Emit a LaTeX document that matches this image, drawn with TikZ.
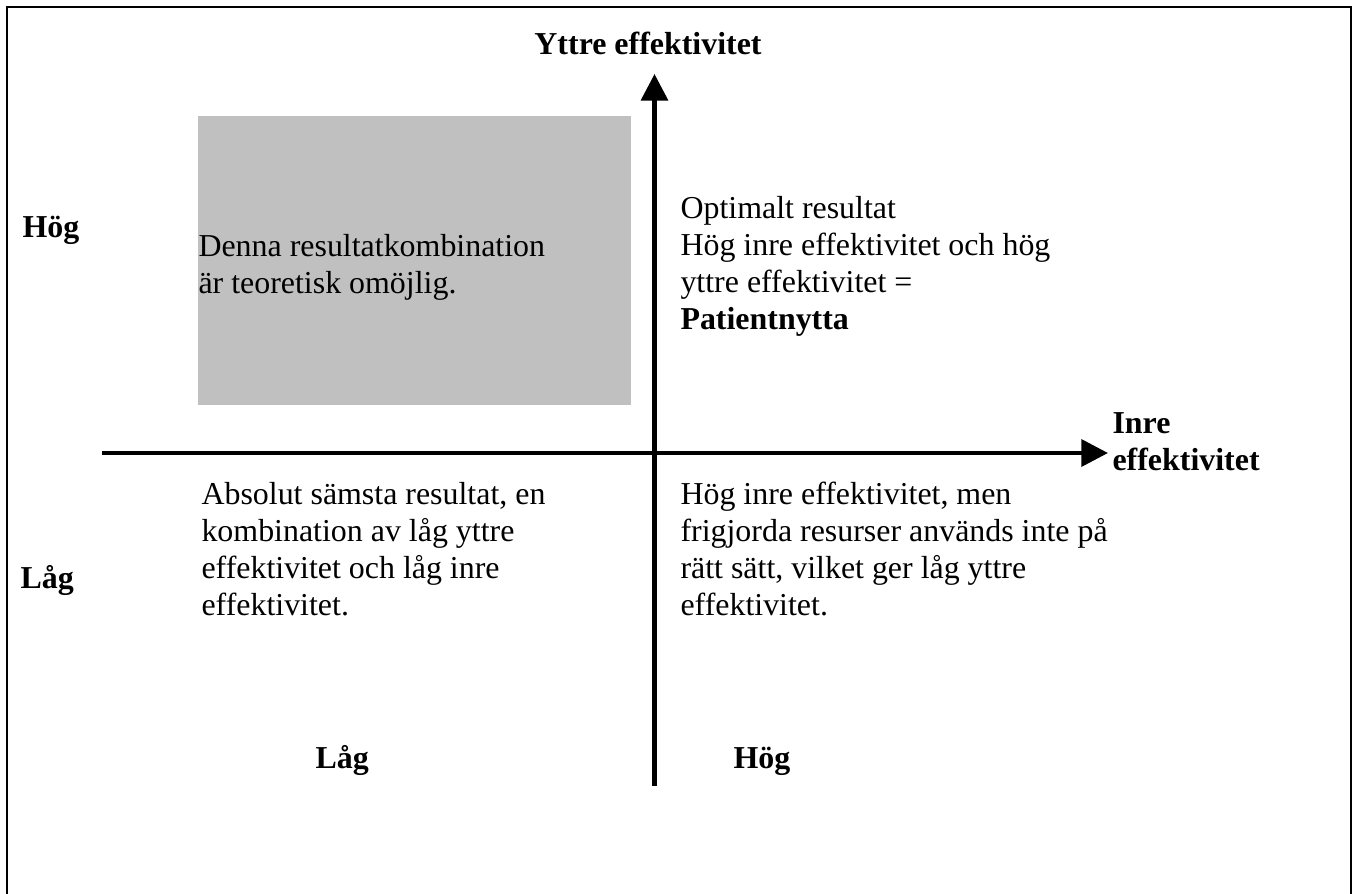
\documentclass[tikz,border=0pt]{standalone}
\usepackage{fontspec}
\setmainfont{Liberation Serif}
\usetikzlibrary{arrows.meta}
\begin{document}
\begin{tikzpicture}[x=0.376pt,y=-0.376pt,
  txt/.style={anchor=base west,inner sep=0pt,align=left,
    font=\fontsize{12pt}{13.8pt}\selectfont},
  bold/.style={txt,font=\fontsize{12pt}{13.8pt}\selectfont\bfseries},
  axis/.style={line width=1.7pt,-{Triangle[length=10pt,width=10pt]}},
  frame/.style={line width=0.9pt}]
\useasboundingbox (0,0) rectangle (1356,893);
\clip (0,0) rectangle (1356,893);
% outer frame (its bottom edge runs past the page)
\draw[frame] (7,7) rectangle (1351,920);
% shaded quadrant
\fill[fill={rgb,255:red,192;green,192;blue,192}] (198,116) rectangle (631,405);
% axes
\coordinate (ybot) at (654.5,786);
\coordinate (ytop) at (654.5,74);
\coordinate (xleft) at (102,453);
\coordinate (xright) at (1108,453);
\draw[axis] (ybot) -- (ytop);
\draw[axis] (xleft) -- (xright);
% axis titles (multi-line nodes sit on the baseline of their last line)
\node[bold,anchor=base] (ytitle) at (648,55) {Yttre effektivitet};
\node[bold] (xtitle) at (1112,470) {Inre\\effektivitet};
% scale labels
\node[bold] (yhigh) at (22,237) {Hög};
\node[bold] (ylow) at (20,588) {Låg};
\node[bold] (xlow) at (315,768) {Låg};
\node[bold] (xhigh) at (733,768) {Hög};
% quadrant texts
\node[txt] (qtl) at (198,293) {Denna resultatkombination\\är teoretisk omöjlig.};
\node[txt] (qtr) at (680,329) {Optimalt resultat\\Hög inre effektivitet och hög\\yttre effektivitet =\\\textbf{Patientnytta}};
\node[txt] (qbl) at (201,615) {Absolut sämsta resultat, en\\kombination av låg yttre\\effektivitet och låg inre\\effektivitet.};
\node[txt] (qbr) at (680,615) {Hög inre effektivitet, men\\frigjorda resurser används inte på\\rätt sätt, vilket ger låg yttre\\effektivitet.};
\end{tikzpicture}
\end{document}
